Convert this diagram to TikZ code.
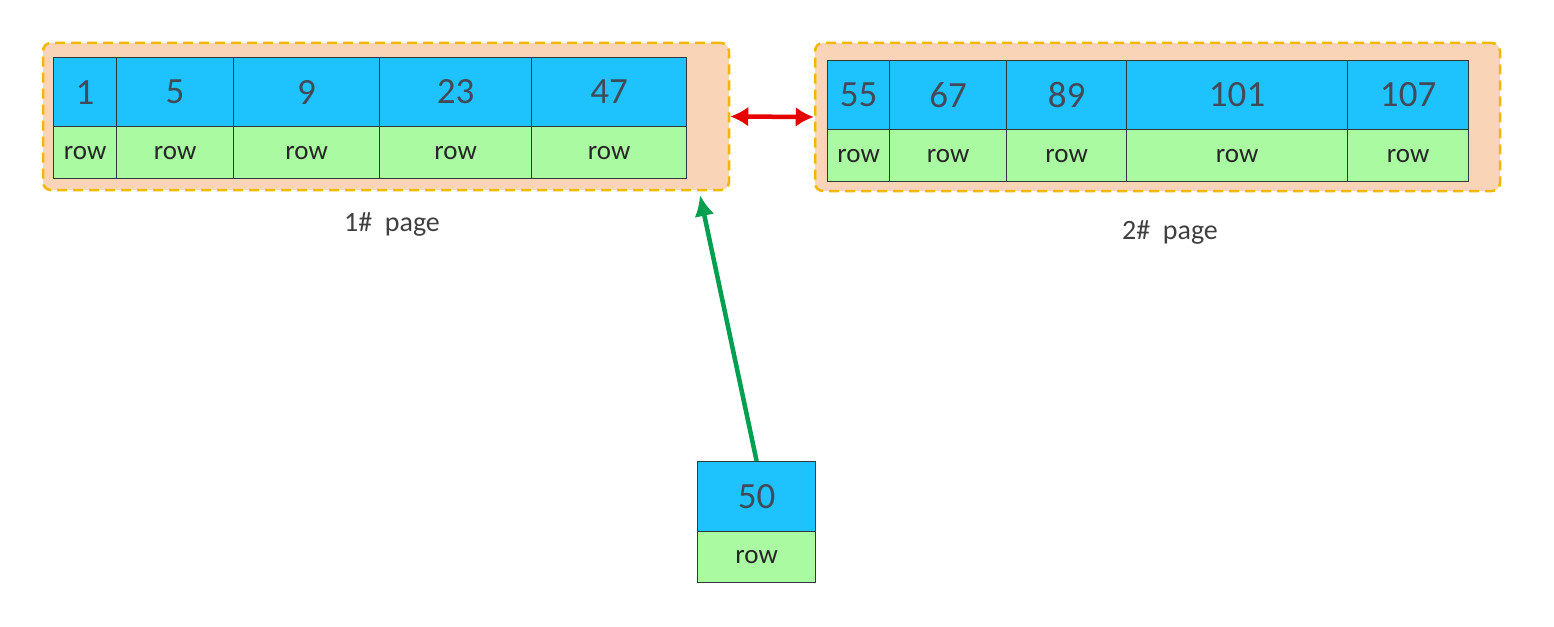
\documentclass[tikz,border=0pt]{standalone}
\usepackage{fontspec}
\setmainfont{Carlito}
\usepackage{tikz}
\usetikzlibrary{arrows.meta,positioning}
\usepackage{xcolor}
\definecolor{pgpeach}{RGB}{250,212,182}
\definecolor{pgyellow}{RGB}{240,184,0}
\definecolor{pgblue}{RGB}{30,194,252}
\definecolor{pggreen}{RGB}{170,250,162}
\definecolor{pgedge}{RGB}{48,56,60}
\definecolor{pgtext}{RGB}{66,74,88}
\definecolor{pgred}{RGB}{230,0,0}
\definecolor{pgarrow}{RGB}{0,160,80}
\tikzstyle{pagebox} = [draw=pgyellow, fill=pgpeach, line width=2.5pt, dash pattern=on 10pt off 6pt, rounded corners=8pt, inner sep=0pt]
\tikzstyle{keycell} = [draw=pgedge, fill=pgblue, line width=1.2pt, inner sep=0pt, anchor=north west, text=pgtext, font=\fontsize{37}{40}\selectfont]
\tikzstyle{rowcell} = [draw=pgedge, fill=pggreen, line width=1.2pt, inner sep=0pt, anchor=north west, text=black!85, font=\fontsize{27}{30}\selectfont]
\tikzstyle{caption} = [text=black!75, font=\fontsize{28}{31}\selectfont]
\tikzstyle{link} = [line width=4.5pt, color=pgred, {Latex[length=18pt,width=20pt]}-{Latex[length=18pt,width=20pt]}]
\tikzstyle{insert} = [line width=4.5pt, color=pgarrow, -{Latex[length=21pt,width=20pt]}]

\begin{document}
\begin{tikzpicture}[x=1pt, y=-1pt]
\useasboundingbox (0,0) rectangle (1554,626);

% the two pages
\node[pagebox, minimum width=686pt, minimum height=147pt] (page1) at (386,116.5) {};
\node[pagebox, minimum width=685pt, minimum height=148pt] (page2) at (1157.5,117) {};

% page 1 records
\foreach \l/\r/\v [count=\i] in {53/116/1, 116/233/5, 233/379/9, 379/531/23, 531/686/47} {
  \node[keycell, minimum width={(\r-\l)*1pt}, minimum height=69pt] (a\i) at (\l,57) {\v};
  \node[rowcell, minimum width={(\r-\l)*1pt}, minimum height=52pt] (ar\i) at (\l,126) {row};
}

% page 2 records
\foreach \l/\r/\v [count=\i] in {827/889/55, 889/1006/67, 1006/1126/89, 1126/1347/101, 1347/1468/107} {
  \node[keycell, minimum width={(\r-\l)*1pt}, minimum height=69pt] (b\i) at (\l,60) {\v};
  \node[rowcell, minimum width={(\r-\l)*1pt}, minimum height=52pt] (br\i) at (\l,129) {row};
}

\node[caption] (cap1) at (392,224) {1\#\ \ page};
\node[caption] (cap2) at (1170,232) {2\#\ \ page};

% record to insert
\node[keycell, minimum width=118pt, minimum height=70pt] (newkey) at (697,461) {50};
\node[rowcell, minimum width=118pt, minimum height=51pt] (newrow) at (697,531) {row};

% links
\draw[link] (page1.east) -- (page2.west);
\coordinate (slot) at (700,195);
\draw[insert] (newkey.north) -- (slot);
\end{tikzpicture}
\end{document}
